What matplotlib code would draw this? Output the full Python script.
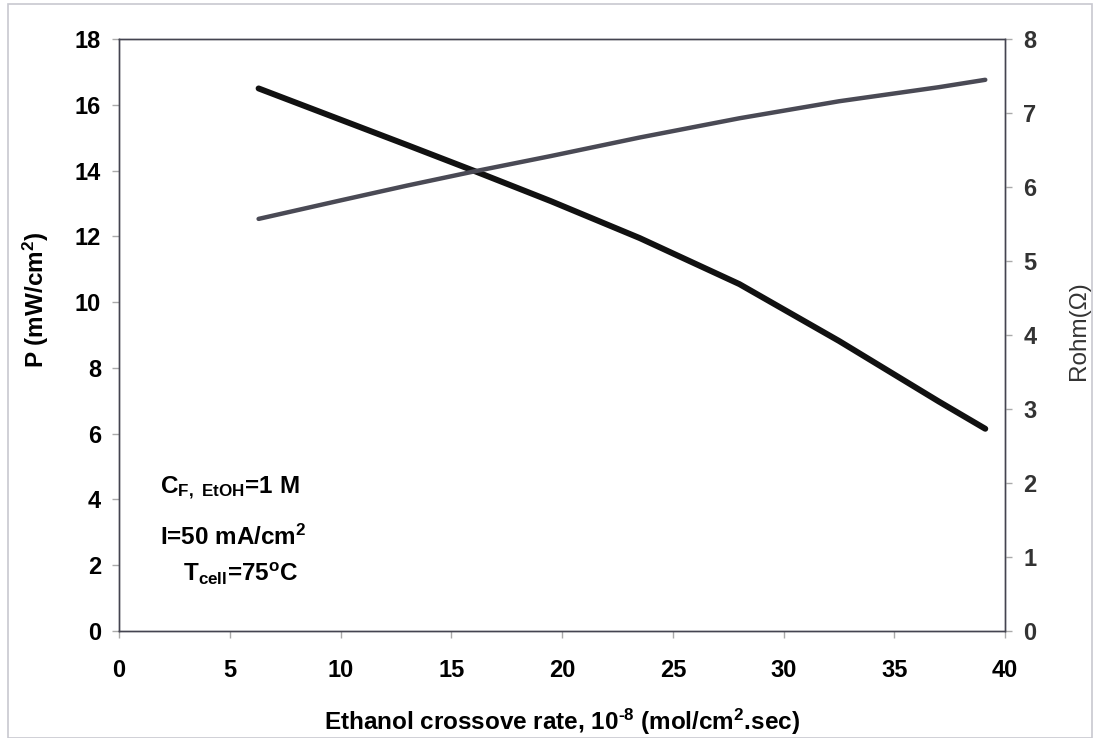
import numpy as np
import matplotlib
matplotlib.use('Agg')
import matplotlib.pyplot as plt
from matplotlib.patches import Rectangle

plt.rcParams['font.family'] = ['Liberation Sans', 'DejaVu Sans']
plt.rcParams['mathtext.default'] = 'regular'

# ethanol crossover rate, 10^-8 mol/cm2.sec
rate = [6.3, 10, 13, 16, 19.5, 23.5, 28, 32.5, 37, 39.1]
# power density P (mW/cm2), left axis
power = [16.5, 15.55, 14.78, 14.0, 13.07, 11.95, 10.55, 8.82, 6.98, 6.15]
# ohmic resistance, right axis
rohm = [5.57, 5.82, 6.02, 6.21, 6.42, 6.67, 6.93, 7.16, 7.35, 7.45]

fig = plt.figure(figsize=(10.95, 7.38), dpi=100)
fig.patches.append(Rectangle((0.007, 0.0), 0.99, 0.995, transform=fig.transFigure,
                             fill=False, edgecolor='#c8c8d0', lw=1.2))

ax = fig.add_axes([0.1087, 0.145, 0.8093, 0.802])
ax2 = ax.twinx()

ax.plot(rate, power, color='#111111', lw=4.3, solid_capstyle='round', zorder=3)
ax2.plot(rate, rohm, color='#4a4a55', lw=3.2, solid_capstyle='round', zorder=2)

ax.set_xlim(0, 40)
ax.set_ylim(0, 18)
ax2.set_ylim(0, 8)
ax.set_xticks(np.arange(0, 41, 5))
ax.set_yticks(np.arange(0, 19, 2))
ax2.set_yticks(np.arange(0, 9, 1))

for a in (ax, ax2):
    for s in a.spines.values():
        s.set_color('#444450')
        s.set_linewidth(1.0)
    a.tick_params(length=5, width=1, color='#aaaaaa', labelsize=17, pad=8)
ax.tick_params(axis='x', pad=15)

for lab in ax.get_xticklabels() + ax.get_yticklabels():
    lab.set_fontweight('bold')
for lab in ax2.get_yticklabels():
    lab.set_fontweight('bold')
    lab.set_color('#333333')

ax.set_xlabel('Ethanol crossove rate, 10$^{\u2010 8}$ (mol/cm$^{2}$.sec)',
              fontsize=17.5, fontweight='bold', labelpad=18)
ax.set_ylabel('P (mW/cm$^{2}$)', fontsize=17.5, fontweight='bold')
ax.yaxis.set_label_coords(-0.077, 0.56)
ax2.set_ylabel('Rohm(\u03a9)', fontsize=17.5, color='#333333')
ax2.yaxis.set_label_coords(1.071, 0.508)

ax.text(1.85, 4.19, 'C$_{F,\\ EtOH}$=1 M', fontsize=17.5, fontweight='bold')
ax.text(1.85, 2.62, 'I=50 mA/cm$^{2}$', fontsize=17.5, fontweight='bold')
ax.text(2.9, 1.52, 'T$_{cell}$=75$^{o}$C', fontsize=17.5, fontweight='bold')

fig.savefig('out.png', dpi=100)
